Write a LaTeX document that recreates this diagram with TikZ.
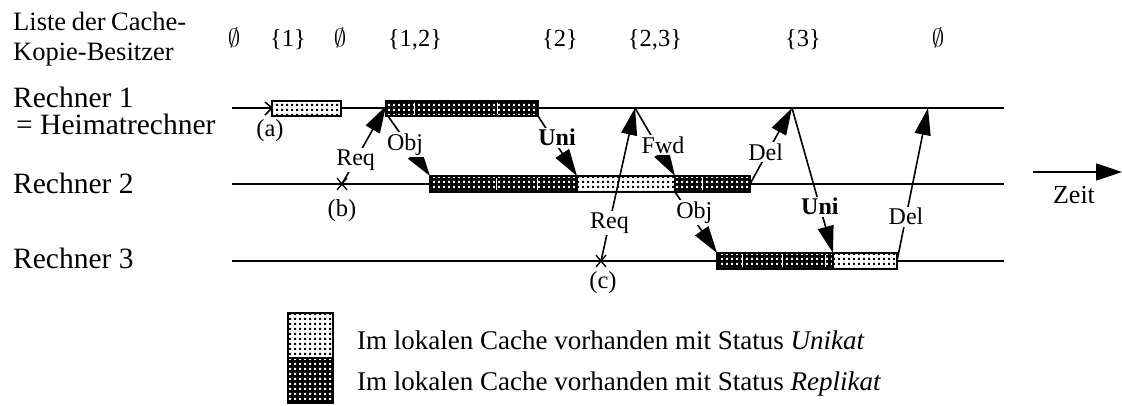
\documentclass[tikz,border=0pt]{standalone}
\usepackage{fontspec}
\setmainfont{Liberation Serif}
\usetikzlibrary{arrows.meta,patterns.meta}

% square dot grid used for the cache state bars
\pgfdeclarepattern{
  name=cachedots,
  type=uncolored,
  bottom left={\pgfpointorigin},
  top right={\pgfpoint{4.5pt}{4.5pt}},
  tile size={\pgfpoint{4.5pt}{4.5pt}},
  code={\pgfpathrectangle{\pgfpoint{1.2pt}{1.2pt}}{\pgfpoint{2.1pt}{2.1pt}}\pgfusepath{fill}}
}

\begin{document}
\begin{tikzpicture}[x=1pt,y=-1pt,
  hdrtxt/.style={font=\fontsize{26.5}{30}\selectfont, inner sep=0pt, anchor=base west},
  lefttxt/.style={font=\fontsize{29.5}{34}\selectfont, inner sep=0pt, anchor=base west},
  legtxt/.style={font=\fontsize{27}{32}\selectfont, inner sep=0pt, anchor=base west},
  settxt/.style={font=\fontsize{24.5}{28}\selectfont, inner sep=0pt, anchor=base},
  msglbl/.style={font=\fontsize{24}{28}\selectfont, fill=white, inner sep=1.5pt},
  timeline/.style={line width=1.5pt},
  msg/.style={line width=1.6pt, -{Triangle[length=27pt,width=16pt]}},
  unibox/.style={draw=black, line width=1.5pt, preaction={fill=white}, pattern=cachedots, pattern color=black},
  repbox/.style={draw=black, line width=1.5pt, preaction={fill=black}, pattern=cachedots, pattern color=white},
  divider/.style={white, line width=0.9pt},
  xmark/.style={line width=1.3pt}
]
\useasboundingbox (0,0) rectangle (1122,405);

% ---- left column of labels
\node[hdrtxt] (hdr1) at (13,30) {\makebox[173pt][s]{Liste der Cache-}};
\node[hdrtxt] (hdr2) at (13,60) {Kopie-Besitzer};
\node[lefttxt] (r1a) at (13,107) {Rechner 1};
\node[lefttxt] (r1b) at (16,134) {= Heimatrechner};
\node[lefttxt] (r2) at (13,193) {Rechner 2};
\node[lefttxt] (r3) at (13,268) {Rechner 3};

% ---- owner sets over time
\node[settxt] (s1) at (234,46) {$\emptyset$};
\node[settxt] (s2) at (288,46) {\{1\}};
\node[settxt] (s3) at (340,46) {$\emptyset$};
\node[settxt] (s4) at (415,46) {\{1,2\}};
\node[settxt] (s5) at (560,46) {\{2\}};
\node[settxt] (s6) at (655,46) {\{2,3\}};
\node[settxt] (s7) at (803,46) {\{3\}};
\node[settxt] (s8) at (938,46) {$\emptyset$};

% ---- time lines
\draw[timeline] (232,108) -- (1004,108);
\draw[timeline] (232,184) -- (1004,184);
\draw[timeline] (232,261) -- (1004,261);

% time arrow
\coordinate (z0) at (1033,172);
\coordinate (z1) at (1122,172);
\draw[line width=1.6pt, -{Triangle[length=26pt,width=17pt]}] (z0) -- (z1);
\node[legtxt, font=\fontsize{26}{30}\selectfont, anchor=center] (zeit) at (1074,195) {Zeit};

% ---- cache bars
% Rechner 1
\draw[timeline] (265,102) -- (272,108) -- (265,115);
\draw[unibox] (272,101) rectangle (341,116);
\node[settxt, anchor=center] (la) at (270,131) {(a)};
\draw[repbox] (386,101) rectangle (538,116);
\draw[divider] (414,103) -- (414,114);
\draw[divider] (497,103) -- (497,114);
% Rechner 2
\draw[repbox] (430,176) rectangle (577,192);
\draw[divider] (496,178) -- (496,190);
\draw[divider] (537,178) -- (537,190);
\draw[unibox] (577,176) rectangle (675,192);
\draw[repbox] (675,176) rectangle (750,192);
\draw[divider] (702,178) -- (702,190);
% Rechner 3
\draw[repbox] (717,253) rectangle (833,269);
\draw[divider] (742,255) -- (742,267);
\draw[divider] (782,255) -- (782,267);
\draw[divider] (825,255) -- (825,267);
\draw[unibox] (833,253) rectangle (897,269);

% ---- request points
\coordinate (b) at (342,184);
\coordinate (c) at (601,261);
\draw[xmark] ([shift={(-5,-6)}]b) -- ([shift={(5,6)}]b) ([shift={(5,-6)}]b) -- ([shift={(-5,6)}]b);
\draw[xmark] ([shift={(-5,-6)}]c) -- ([shift={(5,6)}]c) ([shift={(5,-6)}]c) -- ([shift={(-5,6)}]c);
\node[settxt, anchor=center] (lb) at (342,211) {(b)};
\node[settxt, anchor=center] (lc) at (603,283) {(c)};

% ---- message end points
\coordinate (m1) at (386,106);
\coordinate (o1s) at (388,116);
\coordinate (o1e) at (430,176);
\coordinate (u1s) at (538,116);
\coordinate (u1e) at (577,176);
\coordinate (m2) at (635,108);
\coordinate (f1e) at (675,176);
\coordinate (o2s) at (675,192);
\coordinate (o2e) at (717,253);
\coordinate (d1s) at (750,184);
\coordinate (m3) at (792,108);
\coordinate (u2e) at (833,253);
\coordinate (d2s) at (897,261);
\coordinate (m4) at (928,108);

% ---- messages
\draw[msg] (b) -- node[msglbl, pos=0.31] (req1) {Req} (m1);
\draw[msg] (o1s) -- node[msglbl, pos=0.48, xshift=-3pt] (obj1) {Obj} (o1e);
\draw[msg] (u1s) -- node[msglbl, pos=0.36, xshift=5pt, font=\fontsize{24}{28}\selectfont\bfseries] (uni1) {Uni} (u1e);
\draw[msg] (c) -- node[msglbl, pos=0.25] (req2) {Req} (m2);
\draw[msg] (m2) -- node[msglbl, pos=0.55, xshift=6pt] (fwd) {Fwd} (f1e);
\draw[msg] (o2s) -- node[msglbl, pos=0.34, xshift=5pt] (obj2) {Obj} (o2e);
\draw[msg] (d1s) -- node[msglbl, pos=0.42, xshift=-2pt] (del1) {Del} (m3);
\draw[msg] (m3) -- node[msglbl, pos=0.68, font=\fontsize{24}{28}\selectfont\bfseries] (uni2) {Uni} (u2e);
\draw[msg] (d2s) -- node[msglbl, pos=0.29] (del2) {Del} (m4);

% ---- legend
\draw[unibox] (288,313) rectangle (333,358);
\draw[repbox] (288,358) rectangle (333,403);
\node[legtxt] (leg1) at (357,349) {Im lokalen Cache vorhanden mit Status \textit{Unikat}};
\node[legtxt] (leg2) at (357,390) {Im lokalen Cache vorhanden mit Status \textit{Replikat}};
\end{tikzpicture}
\end{document}
